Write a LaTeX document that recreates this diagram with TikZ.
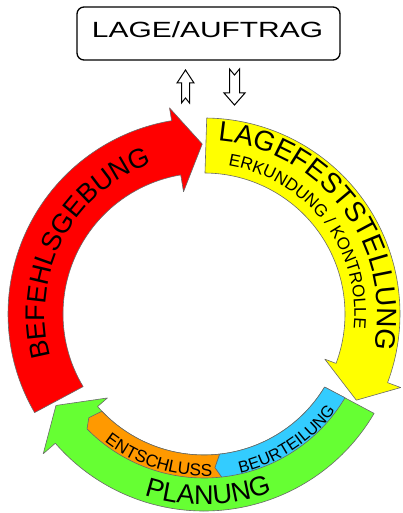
\documentclass[tikz,border=0pt]{standalone}
\usepackage{fontspec}
\setmainfont{Liberation Sans}
\usetikzlibrary{decorations.text}
\definecolor{cred}{RGB}{255,0,0}
\definecolor{cyel}{RGB}{255,255,0}
\definecolor{cgreen}{RGB}{102,255,51}
\definecolor{corange}{RGB}{255,153,0}
\definecolor{cblue}{RGB}{51,204,255}
\definecolor{edgegray}{RGB}{105,105,105}
\newcommand{\fBig}{\fontsize{27}{27}\selectfont}
\newcommand{\fLag}{\fontsize{28}{28}\selectfont}
\newcommand{\fPla}{\fontsize{27}{27}\selectfont}
\newcommand{\fSmall}{\fontsize{17}{17}\selectfont}
\newcommand{\fEnt}{\fontsize{17.2}{17}\selectfont}
\newcommand{\fBeu}{\fontsize{16.4}{17}\selectfont}
\begin{document}
\begin{tikzpicture}[x=1pt,y=1pt,
  band/.style={draw=edgegray, line width=0.6pt, line join=round},
  blockarrow/.style={draw=black, fill=white, line width=1pt, line join=miter},
  arctext/.style={decorate, decoration={text along path, text align=center, text={#1}}}]
\useasboundingbox (-204,-199) rectangle (198,314);

% green (Planung)
\draw[band, fill=cgreen] (-31.2:141) arc[start angle=-31.2, end angle=-139, radius=141]
  -- (-139:128) -- (-148.3:174) -- (-139:213) -- (-139:197)
  arc[start angle=-139, end angle=-30.3, radius=197] -- cycle;
% orange (Entschluss)
\draw[band, fill=corange] (-136.4:141) -- (-138:155) -- (-135.5:164)
  arc[start angle=-135.5, end angle=-83.8, radius=164] -- (-85.9:154) -- (-83.6:141)
  arc[start angle=-83.6, end angle=-136.4, radius=141] -- cycle;
% blue (Beurteilung)
\draw[band, fill=cblue] (-83.6:141) -- (-85.9:154) -- (-83.8:164)
  arc[start angle=-83.8, end angle=-30.7, radius=164] -- (-31.2:141)
  arc[start angle=-31.2, end angle=-83.6, radius=141] -- cycle;
% red (Befehlsgebung)
\draw[band, fill=cred] (211:141) arc[start angle=211, end angle=99.5, radius=141]
  -- (99.5:124) -- (90.6:170) -- (99.5:209) -- (99.5:196)
  arc[start angle=99.5, end angle=210.2, radius=196] -- cycle;
% yellow (Lagefeststellung)
\draw[band, fill=cyel] (89.2:196) arc[start angle=89.2, end angle=-20.5, radius=196]
  -- (-20.5:210) -- (-29.5:175) -- (-20.5:129) -- (-20.5:141)
  arc[start angle=-20.5, end angle=89.6, radius=141] -- cycle;

% texts along arcs
\path[arctext={|\fBig|BEFEHLSGEBUNG}] (212.3:159) arc[start angle=212.3, end angle=92.3, radius=159];
\path[arctext={|\fLag|LAGEFESTSTELLUNG}] (96.85:173.5) arc[start angle=96.85, end angle=-23.15, radius=173.5];
\path[arctext={|\fSmall|ERKUNDUNG / KONTROLLE}] (97.6:150.4) arc[start angle=97.6, end angle=-22.4, radius=150.4];
\path[arctext={|\fPla|PLANUNG}] (241.3:190.7) arc[start angle=241.3, end angle=301.3, radius=190.7];
\path[arctext={|\fEnt|ENTSCHLUSS}] (222.5:162) arc[start angle=222.5, end angle=282.5, radius=162];
\path[arctext={|\fBeu|BEURTEILUNG}] (273.3:163) arc[start angle=273.3, end angle=333.3, radius=163];

% box
\node[draw, rounded corners=7pt, line width=1.3pt, minimum width=263pt, minimum height=53pt, inner sep=0pt] (box) at (4.5,280.5) {};
\node[anchor=base, inner sep=0pt] (boxtext) at (3.5,276.7) {\scalebox{1.36}[1]{\fontsize{22}{22}\selectfont LAGE/AUFTRAG}};

% hollow block arrows
\draw[blockarrow] (-18.5,244) -- (-27,231) -- (-22.5,231) -- (-22.5,211) -- (-18.5,216)
  -- (-14.5,211) -- (-14.5,231) -- (-10,231) -- cycle;
\draw[blockarrow] (30.5,209) -- (20,221) -- (25.5,221) -- (25.5,245) -- (30.5,239)
  -- (35.5,245) -- (35.5,221) -- (41,221) -- cycle;
\end{tikzpicture}
\end{document}
